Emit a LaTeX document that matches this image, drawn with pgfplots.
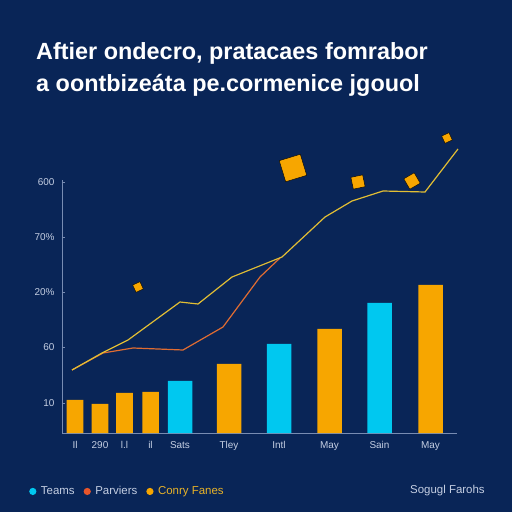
\documentclass[border=0pt]{standalone}
\usepackage{pgfplots}
\pgfplotsset{compat=1.18}
\usepackage{fontspec}
\setmainfont{Liberation Sans}
\definecolor{bg}{RGB}{9,37,87}
\definecolor{barorange}{RGB}{247,166,0}
\definecolor{barcyan}{RGB}{0,200,240}
\definecolor{lineyellow}{RGB}{226,190,52}
\definecolor{lineorange}{RGB}{224,108,50}
\definecolor{dotred}{RGB}{232,85,42}
\definecolor{axisgrey}{RGB}{120,140,178}
\definecolor{labelgrey}{RGB}{196,206,226}
\definecolor{gold}{RGB}{232,178,40}
\begin{document}
\begin{tikzpicture}
\fill[bg] (0,0) rectangle (512bp,512bp);
\node[anchor=base west, text=white, inner sep=0pt, font=\fontsize{23.5}{28}\selectfont\bfseries] at (36bp,452.5bp) {Aftier ondecro, pratacaes fomrabor};
\node[anchor=base west, text=white, inner sep=0pt, font=\fontsize{23.5}{28}\selectfont\bfseries] at (36bp,420bp) {a oontbizeáta pe.cormenice jgouol};
\begin{axis}[
  at={(62bp,79bp)}, anchor=south west,
  x=1bp, y=1bp,
  xmin=62, xmax=457, ymin=0, ymax=253,
  clip=false,
  axis lines=left,
  axis line style={-, axisgrey, line width=0.8bp},
  tick style={axisgrey, line width=0.6bp},
  tick align=inside,
  major tick length=3bp,
  ytick={30,85.5,141,196,251},
  yticklabels={10,60,20\%,70\%,600},
  yticklabel style={xshift=-4bp},
  xtick={75,100,124.5,150.5,180,229,279,329.5,379.5,430.5},
  xticklabels={Il,290,l.l,il,Sats,Tley,Intl,May,Sain,May},
  xticklabel style={yshift=-5bp},
  xtick style={draw=none},
  extra x ticks={203,253,304,355,406,457},
  extra x tick labels={},
  extra x tick style={tick style={axisgrey, line width=0.6bp}, tick align=outside, major tick length=3bp},
  tick label style={font=\fontsize{10}{12}\selectfont, text=labelgrey},
  /pgf/number format/assume math mode=true,
  legend style={at={(rel axis cs:-0.0835,-0.231)}, anchor=west, draw=none, fill=none,
    inner sep=0pt, text=labelgrey, font=\fontsize{11.5}{13}\selectfont,
    /tikz/every odd column/.append style={column sep=2.5bp},
    /tikz/every even column/.append style={column sep=7bp}},
  legend columns=3,
  legend image code/.code={\fill[#1] (0bp,0bp) circle [radius=3.6bp];},
]
% narrow orange bars
\addplot[ybar, bar width=16.5bp, bar shift=0pt, fill=barorange, draw=none, forget plot]
  coordinates {(75,33) (100,29) (124.5,40) (150.5,41)};
% wide orange bars
\addplot[ybar, bar width=24.5bp, bar shift=0pt, fill=barorange, draw=none, forget plot]
  coordinates {(229,69) (329.5,104) (430.5,148)};
% wide cyan bars
\addplot[ybar, bar width=24.5bp, bar shift=0pt, fill=barcyan, draw=none, forget plot]
  coordinates {(180,52) (279,89) (379.5,130)};
% orange line
\addplot[lineorange, line width=1.2bp, forget plot]
  coordinates {(72,63) (103,80) (133,85) (183,83) (223,106) (260,156) (280,175)};
% yellow line
\addplot[lineyellow, line width=1.2bp, forget plot]
  coordinates {(72,63) (102,80) (128,93) (180,131) (198,129) (232,156) (282,176) (325,216) (352,232) (383,242) (425,241) (458,284)};
% floating squares
\addplot[only marks, mark=square*, mark size=11bp, mark options={fill=barorange, draw=none, rotate=17}, forget plot]
  coordinates {(293,265)};
\addplot[only marks, mark=square*, mark size=6bp, mark options={fill=barorange, draw=none, rotate=12}, forget plot]
  coordinates {(358,251)};
\addplot[only marks, mark=square*, mark size=6bp, mark options={fill=barorange, draw=none, rotate=30}, forget plot]
  coordinates {(412,252)};
\addplot[only marks, mark=square*, mark size=4bp, mark options={fill=barorange, draw=none, rotate=25}, forget plot]
  coordinates {(447,295) (138,146)};
\addlegendimage{fill=barcyan, draw=none}
\addlegendentry{Teams}
\addlegendimage{fill=dotred, draw=none}
\addlegendentry{Parviers}
\addlegendimage{fill=barorange, draw=none}
\addlegendentry{\textcolor{gold}{Conry Fanes}}
\end{axis}
\node[anchor=west, text=labelgrey, inner sep=0pt, font=\fontsize{11.5}{13}\selectfont] at (410bp,21bp) {Sogugl Farohs};
\end{tikzpicture}
\end{document}
